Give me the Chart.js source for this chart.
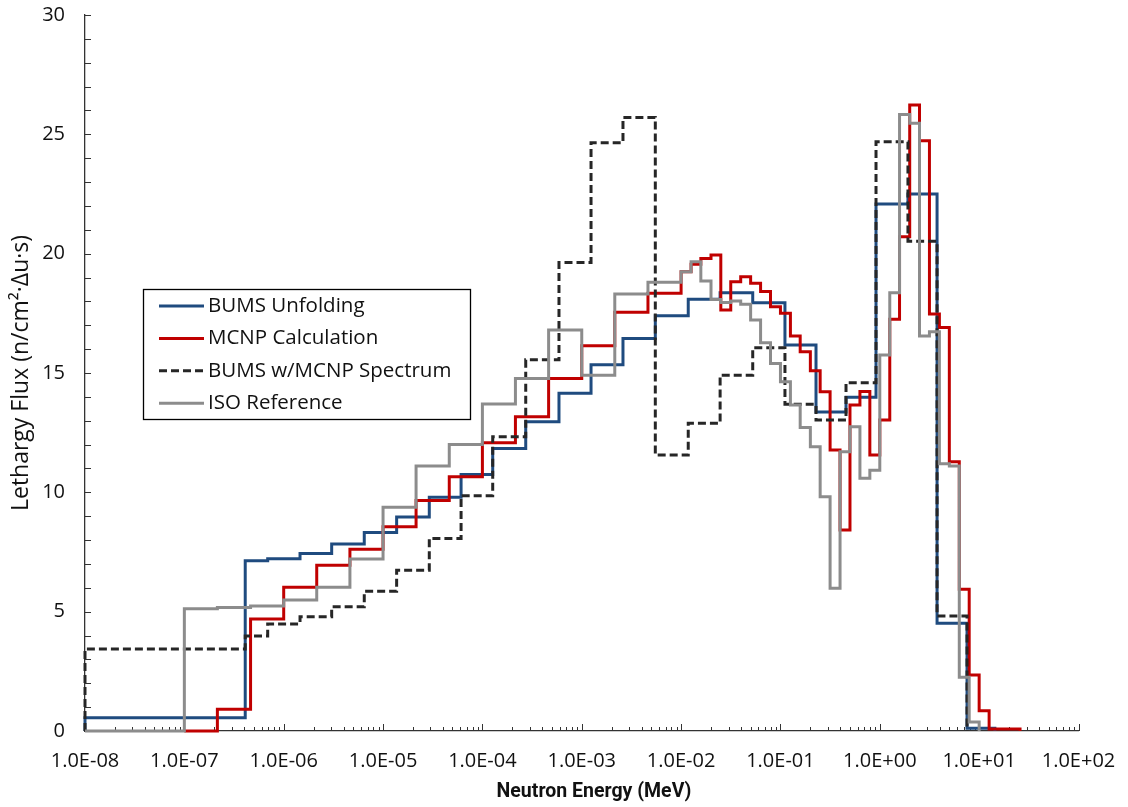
<!DOCTYPE html>
<html>
<head>
<meta charset="utf-8">
<script src="https://cdn.jsdelivr.net/npm/chart.js@4.4.1/dist/chart.umd.min.js"></script>
<style>
  html, body { margin: 0; padding: 0; background: #fff; }
  #wrap { width: 1128px; height: 807px; position: relative; }
</style>
</head>
<body>
<div id="wrap"><canvas id="spectrum"></canvas></div>
<script>
// energy group boundaries (MeV) and lethargy flux per group
const bumsEdges = [1e-8, 4.1e-7, 6.9e-7, 1.46e-6, 3.04e-6, 6.47e-6, 1.37e-5, 2.92e-5, 6.1e-5,
  1.27e-4, 2.73e-4, 5.9e-4, 1.24e-3, 2.6e-3, 5.5e-3, 1.18e-2, 2.47e-2, 5.26e-2, 0.111,
  0.228, 0.457, 0.916, 1.92, 3.77, 7.55, 14.4];
const bumsUnfolding = [0.55, 7.13, 7.22, 7.44, 7.83, 8.32, 8.97, 9.79, 10.75, 11.84, 12.96,
  14.15, 15.35, 16.45, 17.4, 18.09, 18.36, 17.94, 16.17, 13.37, 13.98, 22.08, 22.5, 4.51, 0.12];
const bumsMcnpSpectrum = [3.44, 3.98, 4.48, 4.79, 5.21, 5.86, 6.74, 8.07, 9.86, 12.33, 15.55,
  19.63, 24.65, 25.71, 11.56, 12.89, 14.91, 16.06, 13.69, 13.03, 14.59, 24.69, 20.52, 4.82];

const mcnpEdges = [1e-7, 2.15e-7, 4.64e-7, 1e-6, 2.15e-6, 4.64e-6, 1e-5, 2.15e-5, 4.64e-5,
  1e-4, 2.15e-4, 4.64e-4, 1e-3, 2.15e-3, 4.64e-3, 1e-2, 1.26e-2, 1.58e-2, 2e-2, 2.51e-2,
  3.16e-2, 3.98e-2, 5.01e-2, 6.31e-2, 7.94e-2, 0.1, 0.126, 0.158, 0.2, 0.251, 0.316, 0.398,
  0.501, 0.631, 0.794, 1, 1.26, 1.58, 2, 2.51, 3.16, 3.98, 5.01, 6.31, 7.94, 10, 12.6, 25.8];
const mcnpCalculation = [0, 0.91, 4.69, 6.02, 6.95, 7.62, 8.56, 9.66, 10.65, 12.08, 13.17,
  14.77, 16.14, 17.55, 18.34, 19.24, 19.56, 19.8, 19.94, 17.64, 18.82, 19.03, 18.76, 18.41,
  17.78, 17.5, 16.55, 15.89, 15.09, 14.21, 11.77, 8.42, 13.66, 14.22, 11.56, 13.03, 17.25,
  20.71, 26.23, 24.73, 17.47, 16.91, 11.28, 5.94, 2.35, 0.85, 0.08];

const isoEdges = [1e-8, 1e-7, 2.15e-7, 4.64e-7, 1e-6, 2.15e-6, 4.64e-6, 1e-5, 2.15e-5, 4.64e-5,
  1e-4, 2.15e-4, 4.64e-4, 1e-3, 2.15e-3, 4.64e-3, 1e-2, 1.26e-2, 1.58e-2, 2e-2, 2.51e-2,
  3.16e-2, 3.98e-2, 5.01e-2, 6.31e-2, 7.94e-2, 0.1, 0.126, 0.158, 0.2, 0.251, 0.316, 0.398,
  0.501, 0.631, 0.794, 1, 1.26, 1.58, 2, 2.51, 3.16, 3.98, 5.01, 6.31, 7.94, 10, 12.6];
const isoReference = [0, 5.12, 5.17, 5.24, 5.49, 6.02, 7.21, 9.37, 11.1, 12.0, 13.7, 14.77,
  16.8, 14.91, 18.31, 18.8, 19.24, 19.66, 18.85, 18.08, 17.95, 18.02, 17.88, 17.22, 16.27,
  15.4, 14.63, 13.66, 12.72, 11.91, 9.82, 5.98, 11.7, 12.75, 10.59, 10.93, 15.75, 18.36,
  25.83, 25.46, 16.55, 16.73, 11.2, 11.1, 2.25, 0.38];

const energyTicks = [1e-8, 1e-7, 1e-6, 1e-5, 1e-4, 1e-3, 1e-2, 1e-1, 1e0, 1e1, 1e2];

const FONT = '"Open Sans", "DejaVu Sans", sans-serif';

// histogram outline: rise at the first edge, hold each value across its group, drop at the end
function steps(edges, values) {
  const pts = [{ x: edges[0], y: 0 }];
  values.forEach((v, i) => pts.push({ x: edges[i], y: v }));
  pts.push({ x: edges[values.length], y: 0 });
  return pts;
}

function sci(v) {
  const e = Math.round(Math.log10(v));
  return '1.0E' + (e < 0 ? '-' : '+') + String(Math.abs(e)).padStart(2, '0');
}

// inward tick marks on both axes
const tickMarks = {
  id: 'tickMarks',
  beforeDatasetsDraw(chart) {
    const { ctx, scales: { x, y } } = chart;
    ctx.save();
    ctx.strokeStyle = '#333';
    ctx.lineWidth = 1;
    ctx.beginPath();
    for (let d = -8; d <= 2; d++) {
      for (let m = 1; m <= 9; m++) {
        if (d === 2 && m > 1) break;
        const px = Math.round(x.getPixelForValue(m * Math.pow(10, d))) + 0.5;
        const len = m === 1 ? 7 : 4;
        ctx.moveTo(px, y.bottom);
        ctx.lineTo(px, y.bottom - len);
      }
    }
    for (let v = 1; v <= 30; v++) {
      const py = Math.round(y.getPixelForValue(v)) + 0.5;
      ctx.moveTo(x.left, py);
      ctx.lineTo(x.left + 6, py);
    }
    ctx.stroke();
    ctx.restore();
  }
};

// boxed legend inside the plot, plus the energy axis title (sits a little right of centre)
const boxLegend = {
  id: 'boxLegend',
  afterDraw(chart) {
    const ctx = chart.ctx;
    const left = 143.5, top = 289.5, w = 327, h = 130;
    ctx.save();
    ctx.fillStyle = '#fff';
    ctx.fillRect(left, top, w, h);
    ctx.strokeStyle = '#000';
    ctx.lineWidth = 1.3;
    ctx.strokeRect(left, top, w, h);
    ctx.font = '20.5px ' + FONT;
    ctx.textBaseline = 'middle';
    chart.data.datasets.forEach((ds, i) => {
      const cy = 306 + i * 32.4;
      ctx.strokeStyle = ds.borderColor;
      ctx.lineWidth = 3;
      ctx.setLineDash(ds.borderDash || []);
      ctx.beginPath();
      ctx.moveTo(159, cy);
      ctx.lineTo(204, cy);
      ctx.stroke();
      ctx.setLineDash([]);
      ctx.fillStyle = '#111';
      ctx.fillText(ds.label, 208, cy);
    });

    ctx.font = 'bold 19.5px Roboto, ' + FONT;
    ctx.textAlign = 'center';
    ctx.fillStyle = '#111';
    ctx.fillText('Neutron Energy (MeV)', chart.chartArea.left + 509, 792);
    ctx.restore();
  }
};

const lineStyle = {
  stepped: true,
  pointRadius: 0,
  borderWidth: 3,
  borderJoinStyle: 'miter',
  borderCapStyle: 'butt',
  fill: false,
  clip: 4
};

new Chart(document.getElementById('spectrum'), {
  type: 'line',
  data: {
    datasets: [
      { ...lineStyle, label: 'BUMS Unfolding', data: steps(bumsEdges, bumsUnfolding),
        borderColor: '#1F4B7F', order: 4 },
      { ...lineStyle, label: 'MCNP Calculation', data: steps(mcnpEdges, mcnpCalculation),
        borderColor: '#C00000', order: 3 },
      { ...lineStyle, label: 'BUMS w/MCNP Spectrum', data: steps(bumsEdges, bumsMcnpSpectrum),
        borderColor: '#262626', borderDash: [8, 4], order: 2 },
      { ...lineStyle, label: 'ISO Reference', data: steps(isoEdges, isoReference),
        borderColor: '#8C8C8C', order: 1 }
    ]
  },
  options: {
    responsive: true,
    maintainAspectRatio: false,
    animation: false,
    layout: { padding: { top: 15, right: 49.5, left: 0, bottom: 0 } },
    plugins: {
      legend: { display: false },
      tooltip: { enabled: false }
    },
    scales: {
      x: {
        type: 'logarithmic',
        min: 1e-8,
        max: 1e2,
        afterBuildTicks: s => { s.ticks = energyTicks.map(v => ({ value: v })); },
        afterFit: s => { s.height = 76; s.paddingLeft = 0; s.paddingRight = 0; },
        grid: { display: false, drawTicks: false },
        border: { color: '#333', width: 1.3 },
        ticks: {
          callback: v => sci(v),
          autoSkip: false,
          maxRotation: 0,
          padding: 18,
          color: '#111',
          font: { family: FONT, size: 20 }
        }
      },
      y: {
        min: 0,
        max: 30,
        afterFit: s => { s.width = 85; s.paddingTop = 0; s.paddingBottom = 0; },
        grid: { display: false, drawTicks: false },
        border: { color: '#333', width: 1.3 },
        ticks: {
          stepSize: 5,
          padding: 20,
          color: '#111',
          font: { family: FONT, size: 20 }
        },
        title: {
          display: true,
          text: 'Lethargy Flux (n/cm²·Δu·s)',
          color: '#111',
          font: { family: FONT, size: 23 },
          padding: { top: 8, bottom: 0 }
        }
      }
    }
  },
  plugins: [tickMarks, boxLegend]
});
</script>
</body>
</html>
